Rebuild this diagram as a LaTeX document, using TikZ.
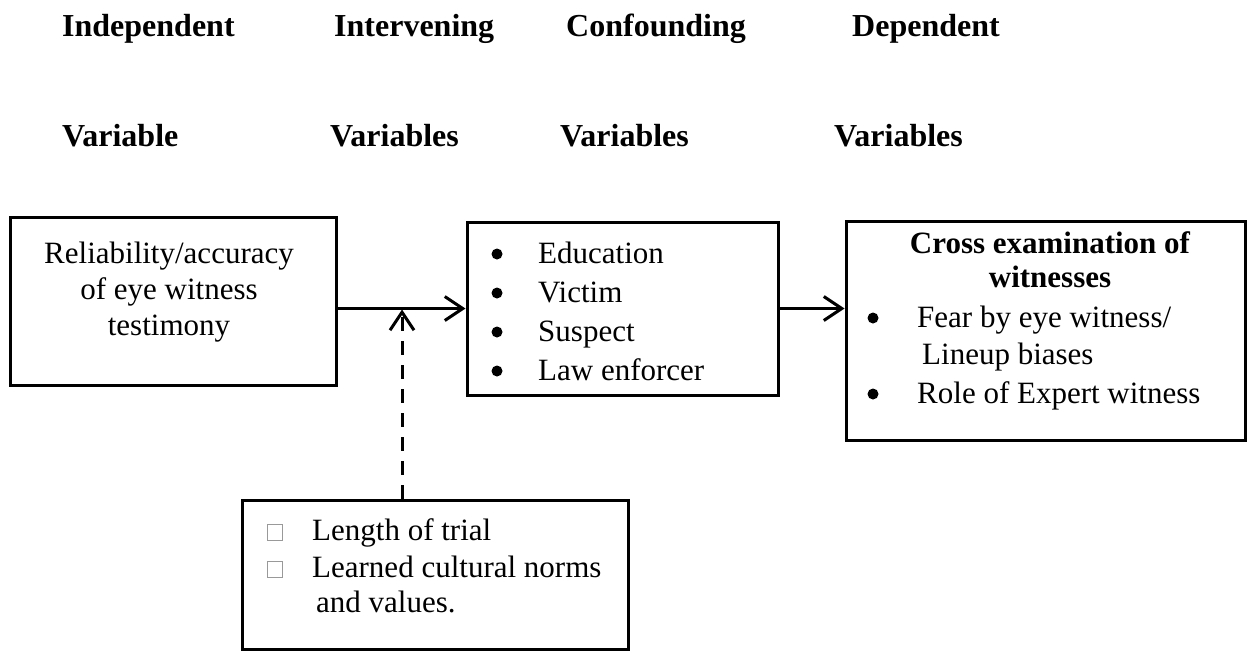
\documentclass[tikz,border=0pt]{standalone}
\usepackage{fontspec}
\setmainfont{Liberation Serif}
\usetikzlibrary{arrows.meta}
\newcommand\bodyfnt{\fontsize{31}{37}\selectfont}
\newcommand\headfnt{\fontsize{32}{38}\selectfont\bfseries}
\tikzset{
  boxst/.style={draw, line width=3pt, inner sep=0pt},
  txt/.style={anchor=base west, inner sep=0pt, font=\bodyfnt},
  ctxt/.style={anchor=base, inner sep=0pt, font=\bodyfnt},
  htxt/.style={anchor=base west, inner sep=0pt, font=\headfnt},
  bul/.style={circle, fill, inner sep=0pt, minimum size=11pt},
  sq/.style={draw=gray!80, line width=1pt, minimum width=15pt, minimum height=16pt, inner sep=0pt},
  arr/.style={line width=3pt, -{Straight Barb[length=18pt,width=24pt,line width=3pt]}},
}
\begin{document}
\begin{tikzpicture}[x=1pt,y=-1pt]
\useasboundingbox (0,0) rectangle (1253,651);
% headers
\node[htxt] (h1) at (62,36) {Independent};
\node[htxt] (h2) at (334,36) {Intervening};
\node[htxt] (h3) at (566,36) {Confounding};
\node[htxt] (h4) at (852,36) {Dependent};
\node[htxt] (v1) at (62,146) {Variable};
\node[htxt] (v2) at (330,146) {Variables};
\node[htxt] (v3) at (560,146) {Variables};
\node[htxt] (v4) at (834,146) {Variables};
% boxes
\node[boxst, minimum width=326pt, minimum height=168pt] (indep) at (173,301) {};
\node[boxst, minimum width=311pt, minimum height=173pt] (mid) at (622.5,308.5) {};
\node[boxst, minimum width=399pt, minimum height=219pt] (dep) at (1045.5,330.5) {};
\node[boxst, minimum width=386pt, minimum height=149pt] (low) at (435,574.5) {};
% left box text
\node[ctxt] (l1) at (169,263) {Reliability/accuracy};
\node[ctxt] (l2) at (169,299) {of eye witness};
\node[ctxt] (l3) at (169,335) {testimony};
% middle box text
\node[bul] (b1) at (497,254) {};
\node[txt] (m1) at (538,263) {Education};
\node[bul] (b2) at (497,293) {};
\node[txt] (m2) at (538,302) {Victim};
\node[bul] (b3) at (497,332) {};
\node[txt] (m3) at (538,341) {Suspect};
\node[bul] (b4) at (497,371) {};
\node[txt] (m4) at (538,380) {Law enforcer};
% right box text
\node[ctxt, font=\bodyfnt\bfseries] (r1) at (1050,253) {Cross examination of};
\node[ctxt, font=\bodyfnt\bfseries] (r2) at (1050,287) {witnesses};
\node[bul] (b5) at (873,318) {};
\node[txt] (r3) at (917,327) {Fear by eye witness/};
\node[txt] (r4) at (922,364) {Lineup biases};
\node[bul] (b6) at (873,394) {};
\node[txt] (r5) at (917,403) {Role of Expert witness};
% bottom box text
\node[sq] (s1) at (275,532) {};
\node[txt] (w1) at (312,540) {Length of trial};
\node[sq] (s2) at (275,569) {};
\node[txt] (w2) at (312,577) {Learned cultural norms};
\node[txt] (w3) at (316,612) {and values.};
% connectors
\coordinate (j) at (402,309.5);
\draw[arr] (indep.east |- mid.west) -- (mid.west);
\draw[arr] (mid.east) -- (mid.east -| dep.west);
\draw[arr, dash pattern=on 14pt off 10pt] (low.north -| j) -- (j);
\end{tikzpicture}
\end{document}
